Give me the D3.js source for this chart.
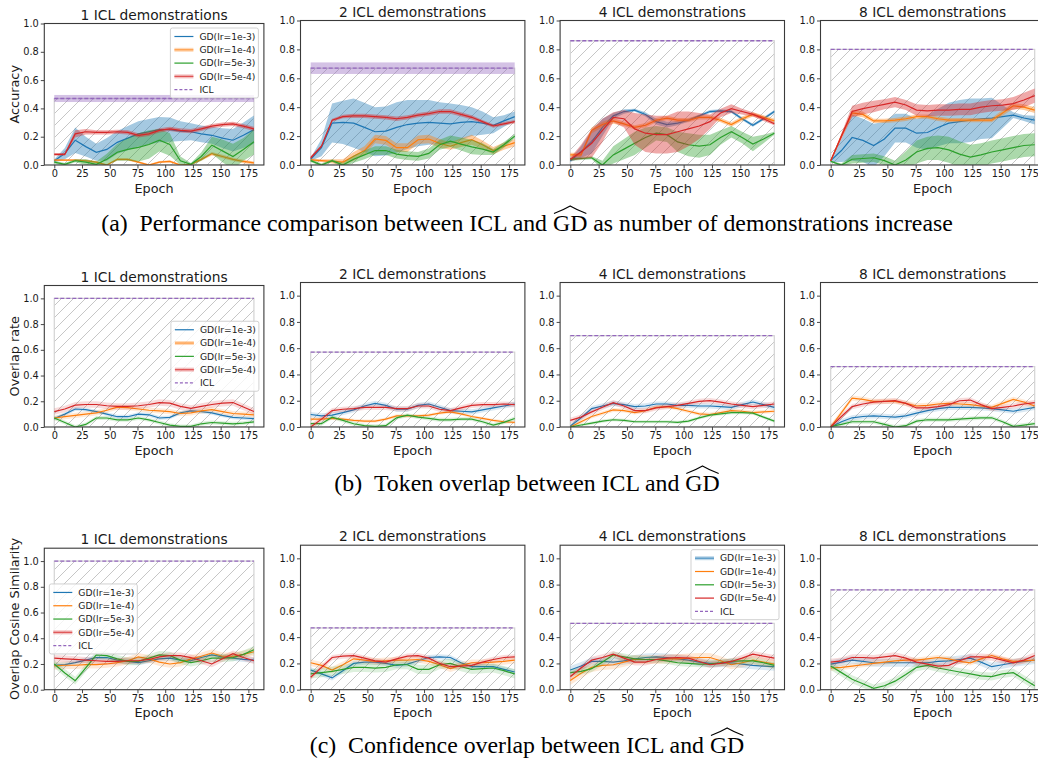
<!DOCTYPE html>
<html>
<head>
<meta charset="utf-8">
<script src="https://cdn.jsdelivr.net/npm/d3@7"></script>
<style>
  body { margin: 0; background: #fff; }
  svg text { font-family: "DejaVu Sans", sans-serif; fill: #1a1a1a; }
  svg .cap text { font-family: "Liberation Serif", serif; fill: #000; }
</style>
</head>
<body>
<svg id="fig" width="1038" height="763"></svg>
<script>
// epochs (x) shared by every panel
var epochs = [0, 9.5, 18.9, 28.4, 37.9, 47.4, 56.8, 66.3, 75.8, 85.3, 94.7, 104.2, 113.7, 123.2, 132.6, 142.1, 151.6, 161.1, 170.5, 180];
var lrNames = ["GD(lr=1e-3)", "GD(lr=1e-4)", "GD(lr=5e-3)", "GD(lr=5e-4)"];
var demoTitles = ["1 ICL demonstrations", "2 ICL demonstrations", "4 ICL demonstrations", "8 ICL demonstrations"];
var xTicks = [0, 25, 50, 75, 100, 125, 150, 175];
var yTicks = [0, 0.2, 0.4, 0.6, 0.8, 1.0];

// ---- (a) accuracy: rows are lr 1e-3, 1e-4, 5e-3, 5e-4
var acc1 = [
  [0.03, 0.08, 0.175, 0.13, 0.09, 0.11, 0.16, 0.19, 0.22, 0.235, 0.25, 0.25, 0.24, 0.235, 0.22, 0.21, 0.19, 0.175, 0.21, 0.25],
  [0.035, 0.035, 0.035, 0.03, 0.02, 0.0, 0.04, 0.04, 0.02, 0.0, 0.02, 0.025, 0.0, 0.005, 0.04, 0.08, 0.06, 0.04, 0.025, 0.015],
  [0.02, 0.005, 0.03, 0.02, 0.005, 0.04, 0.09, 0.11, 0.125, 0.145, 0.175, 0.145, 0.03, 0.005, 0.06, 0.14, 0.1, 0.06, 0.11, 0.165],
  [0.075, 0.075, 0.22, 0.235, 0.23, 0.23, 0.235, 0.23, 0.21, 0.22, 0.245, 0.255, 0.245, 0.24, 0.255, 0.275, 0.285, 0.29, 0.275, 0.255]
];
var acc1Sd = [
  [0.01, 0.04, 0.09, 0.07, 0.06, 0.08, 0.08, 0.085, 0.09, 0.09, 0.09, 0.085, 0.07, 0.06, 0.06, 0.06, 0.07, 0.08, 0.09, 0.1],
  [0.005, 0.005, 0.005, 0.008, 0.008, 0.005, 0.008, 0.008, 0.008, 0.005, 0.008, 0.008, 0.005, 0.005, 0.01, 0.012, 0.012, 0.012, 0.012, 0.01],
  [0.01, 0.01, 0.01, 0.02, 0.02, 0.04, 0.06, 0.08, 0.1, 0.1, 0.08, 0.08, 0.03, 0.01, 0.03, 0.06, 0.08, 0.09, 0.08, 0.09],
  [0.01, 0.01, 0.025, 0.02, 0.015, 0.015, 0.015, 0.015, 0.015, 0.015, 0.015, 0.015, 0.015, 0.015, 0.015, 0.015, 0.015, 0.015, 0.015, 0.015]
];
var acc2 = [
  [0.04, 0.12, 0.29, 0.295, 0.29, 0.26, 0.23, 0.235, 0.26, 0.28, 0.29, 0.295, 0.29, 0.285, 0.295, 0.3, 0.29, 0.275, 0.305, 0.335],
  [0.035, 0.03, 0.025, 0.02, 0.06, 0.1, 0.18, 0.17, 0.12, 0.12, 0.175, 0.18, 0.15, 0.13, 0.155, 0.175, 0.14, 0.1, 0.13, 0.155],
  [0.03, 0.0, 0.03, 0.0, 0.04, 0.07, 0.1, 0.1, 0.075, 0.065, 0.06, 0.08, 0.14, 0.165, 0.145, 0.125, 0.11, 0.09, 0.14, 0.2],
  [0.05, 0.13, 0.31, 0.335, 0.34, 0.34, 0.335, 0.33, 0.32, 0.33, 0.345, 0.355, 0.37, 0.37, 0.35, 0.33, 0.3, 0.27, 0.285, 0.3]
];
var acc2Sd = [
  [0.01, 0.06, 0.135, 0.15, 0.17, 0.17, 0.17, 0.17, 0.175, 0.17, 0.16, 0.155, 0.145, 0.14, 0.12, 0.1, 0.08, 0.055, 0.04, 0.035],
  [0.01, 0.01, 0.015, 0.02, 0.03, 0.03, 0.03, 0.03, 0.03, 0.03, 0.03, 0.03, 0.03, 0.025, 0.03, 0.035, 0.03, 0.025, 0.025, 0.025],
  [0.01, 0.01, 0.01, 0.015, 0.025, 0.03, 0.03, 0.03, 0.03, 0.03, 0.03, 0.035, 0.035, 0.04, 0.045, 0.05, 0.04, 0.02, 0.02, 0.015],
  [0.01, 0.01, 0.01, 0.012, 0.015, 0.015, 0.015, 0.015, 0.015, 0.015, 0.015, 0.015, 0.015, 0.015, 0.015, 0.015, 0.012, 0.012, 0.012, 0.012]
];
var acc4 = [
  [0.03, 0.09, 0.16, 0.26, 0.34, 0.37, 0.38, 0.35, 0.3, 0.28, 0.29, 0.31, 0.34, 0.37, 0.375, 0.37, 0.32, 0.275, 0.32, 0.37],
  [0.07, 0.07, 0.24, 0.28, 0.305, 0.285, 0.26, 0.275, 0.31, 0.325, 0.31, 0.31, 0.33, 0.33, 0.31, 0.28, 0.32, 0.35, 0.33, 0.305],
  [0.04, 0.045, 0.05, 0.0, 0.07, 0.11, 0.15, 0.19, 0.22, 0.21, 0.16, 0.14, 0.13, 0.14, 0.19, 0.23, 0.19, 0.145, 0.18, 0.22],
  [0.04, 0.09, 0.15, 0.24, 0.33, 0.32, 0.25, 0.22, 0.21, 0.21, 0.23, 0.25, 0.27, 0.3, 0.36, 0.39, 0.37, 0.35, 0.32, 0.285]
];
var acc4Sd = [
  [0.01, 0.04, 0.08, 0.06, 0.02, 0.015, 0.01, 0.015, 0.02, 0.02, 0.015, 0.01, 0.01, 0.01, 0.01, 0.01, 0.01, 0.01, 0.01, 0.01],
  [0.015, 0.015, 0.02, 0.02, 0.02, 0.015, 0.015, 0.015, 0.015, 0.015, 0.015, 0.015, 0.015, 0.015, 0.015, 0.015, 0.015, 0.015, 0.015, 0.015],
  [0.01, 0.01, 0.01, 0.03, 0.06, 0.07, 0.08, 0.07, 0.05, 0.05, 0.07, 0.08, 0.08, 0.07, 0.05, 0.04, 0.04, 0.05, 0.03, 0.01],
  [0.01, 0.05, 0.1, 0.08, 0.035, 0.06, 0.11, 0.13, 0.13, 0.13, 0.14, 0.12, 0.09, 0.05, 0.03, 0.03, 0.02, 0.015, 0.015, 0.01]
];
var acc8 = [
  [0.03, 0.1, 0.19, 0.17, 0.135, 0.18, 0.255, 0.255, 0.22, 0.225, 0.26, 0.29, 0.3, 0.31, 0.32, 0.325, 0.335, 0.345, 0.325, 0.31],
  [0.03, 0.2, 0.36, 0.35, 0.305, 0.305, 0.31, 0.32, 0.335, 0.335, 0.32, 0.31, 0.31, 0.31, 0.31, 0.31, 0.36, 0.41, 0.4, 0.38],
  [0.025, 0.0, 0.04, 0.045, 0.05, 0.03, 0.0, 0.035, 0.09, 0.115, 0.12, 0.105, 0.075, 0.055, 0.07, 0.09, 0.105, 0.12, 0.135, 0.14],
  [0.03, 0.2, 0.37, 0.39, 0.405, 0.42, 0.435, 0.415, 0.38, 0.375, 0.38, 0.38, 0.385, 0.385, 0.4, 0.41, 0.415, 0.425, 0.45, 0.48]
];
var acc8Sd = [
  [0.01, 0.08, 0.16, 0.15, 0.15, 0.12, 0.1, 0.1, 0.1, 0.12, 0.13, 0.14, 0.15, 0.15, 0.14, 0.14, 0.08, 0.02, 0.02, 0.03],
  [0.005, 0.015, 0.02, 0.02, 0.015, 0.015, 0.015, 0.015, 0.015, 0.015, 0.015, 0.015, 0.015, 0.015, 0.015, 0.015, 0.02, 0.02, 0.02, 0.02],
  [0.005, 0.01, 0.03, 0.03, 0.03, 0.03, 0.03, 0.06, 0.08, 0.08, 0.085, 0.09, 0.09, 0.085, 0.08, 0.08, 0.08, 0.08, 0.08, 0.08],
  [0.005, 0.02, 0.04, 0.04, 0.04, 0.035, 0.035, 0.035, 0.04, 0.04, 0.04, 0.04, 0.04, 0.04, 0.04, 0.04, 0.04, 0.045, 0.05, 0.05]
];
var iclAcc = [0.47, 0.67, 0.86, 0.80];
var iclAccSd = [0.025, 0.04, 0, 0];

// ---- (b) token overlap rate
var ovl1 = [
  [0.065, 0.1, 0.14, 0.135, 0.12, 0.1, 0.08, 0.08, 0.1, 0.095, 0.07, 0.075, 0.11, 0.125, 0.12, 0.11, 0.09, 0.075, 0.07, 0.065],
  [0.07, 0.08, 0.09, 0.1, 0.11, 0.13, 0.155, 0.15, 0.14, 0.13, 0.125, 0.12, 0.105, 0.11, 0.125, 0.135, 0.12, 0.105, 0.1, 0.095],
  [0.07, 0.035, 0.0, 0.02, 0.07, 0.07, 0.055, 0.055, 0.07, 0.055, 0.035, 0.015, 0.005, 0.005, 0.025, 0.035, 0.03, 0.025, 0.03, 0.04],
  [0.12, 0.14, 0.17, 0.175, 0.175, 0.165, 0.16, 0.16, 0.165, 0.175, 0.19, 0.185, 0.16, 0.145, 0.16, 0.175, 0.185, 0.19, 0.155, 0.12]
];
var ovl2 = [
  [0.095, 0.085, 0.09, 0.11, 0.13, 0.16, 0.18, 0.165, 0.135, 0.135, 0.165, 0.175, 0.15, 0.125, 0.12, 0.115, 0.13, 0.145, 0.16, 0.175],
  [0.06, 0.06, 0.065, 0.06, 0.05, 0.045, 0.045, 0.06, 0.085, 0.085, 0.085, 0.09, 0.105, 0.115, 0.1, 0.08, 0.065, 0.05, 0.04, 0.035],
  [0.025, 0.025, 0.075, 0.05, 0.025, 0.01, 0.005, 0.01, 0.07, 0.09, 0.075, 0.065, 0.055, 0.055, 0.06, 0.06, 0.04, 0.015, 0.035, 0.065],
  [0.0, 0.06, 0.125, 0.135, 0.14, 0.15, 0.15, 0.15, 0.14, 0.14, 0.16, 0.16, 0.135, 0.125, 0.145, 0.165, 0.17, 0.17, 0.175, 0.17]
];
var ovl4 = [
  [0.005, 0.07, 0.14, 0.16, 0.18, 0.17, 0.155, 0.16, 0.175, 0.175, 0.165, 0.165, 0.16, 0.16, 0.155, 0.15, 0.17, 0.19, 0.17, 0.15],
  [0.0, 0.04, 0.08, 0.105, 0.13, 0.125, 0.11, 0.125, 0.15, 0.155, 0.14, 0.12, 0.1, 0.095, 0.11, 0.125, 0.12, 0.11, 0.115, 0.12],
  [0.0, 0.015, 0.03, 0.045, 0.055, 0.05, 0.04, 0.04, 0.04, 0.04, 0.035, 0.045, 0.07, 0.09, 0.1, 0.11, 0.11, 0.105, 0.075, 0.045],
  [0.05, 0.075, 0.115, 0.15, 0.185, 0.16, 0.125, 0.125, 0.145, 0.155, 0.165, 0.18, 0.195, 0.2, 0.19, 0.175, 0.165, 0.155, 0.165, 0.175]
];
var ovl8 = [
  [0.0, 0.04, 0.07, 0.08, 0.085, 0.08, 0.075, 0.085, 0.105, 0.125, 0.14, 0.15, 0.15, 0.15, 0.145, 0.14, 0.13, 0.12, 0.135, 0.15],
  [0.0, 0.11, 0.22, 0.21, 0.195, 0.195, 0.195, 0.18, 0.16, 0.165, 0.175, 0.18, 0.175, 0.17, 0.16, 0.15, 0.18, 0.21, 0.19, 0.16],
  [0.005, 0.02, 0.04, 0.04, 0.04, 0.02, 0.0, 0.01, 0.045, 0.055, 0.055, 0.055, 0.06, 0.065, 0.07, 0.07, 0.04, 0.005, 0.015, 0.025],
  [0.0, 0.08, 0.155, 0.175, 0.19, 0.195, 0.2, 0.18, 0.145, 0.145, 0.155, 0.17, 0.2, 0.205, 0.17, 0.14, 0.15, 0.16, 0.175, 0.185]
];
var ovl1Sd = [0.015, 0.02, 0.015, 0.025];
var ovl2Sd = [0.02, 0.012, 0.015, 0.02];
var ovl4Sd = [0.02, 0.015, 0.012, 0.02];
var ovl8Sd = [0.02, 0.02, 0.015, 0.02];
var iclOvl = [1.0, 0.57, 0.695, 0.46];

// ---- (c) confidence overlap cosine similarity
var cos1 = [
  [0.19, 0.195, 0.21, 0.23, 0.25, 0.25, 0.23, 0.22, 0.21, 0.225, 0.24, 0.245, 0.23, 0.225, 0.25, 0.27, 0.255, 0.245, 0.235, 0.23],
  [0.185, 0.19, 0.19, 0.195, 0.195, 0.2, 0.21, 0.225, 0.255, 0.24, 0.215, 0.2, 0.21, 0.24, 0.26, 0.285, 0.26, 0.26, 0.275, 0.295],
  [0.2, 0.13, 0.07, 0.17, 0.27, 0.265, 0.24, 0.22, 0.22, 0.245, 0.27, 0.265, 0.23, 0.21, 0.225, 0.245, 0.245, 0.25, 0.275, 0.31],
  [0.245, 0.24, 0.235, 0.23, 0.225, 0.22, 0.22, 0.225, 0.225, 0.235, 0.255, 0.265, 0.265, 0.25, 0.225, 0.2, 0.24, 0.28, 0.25, 0.225]
];
var cos2 = [
  [0.15, 0.12, 0.09, 0.145, 0.2, 0.21, 0.21, 0.2, 0.185, 0.195, 0.22, 0.245, 0.25, 0.245, 0.205, 0.175, 0.175, 0.175, 0.155, 0.135],
  [0.205, 0.185, 0.15, 0.19, 0.235, 0.225, 0.215, 0.22, 0.225, 0.225, 0.23, 0.215, 0.19, 0.16, 0.185, 0.205, 0.205, 0.21, 0.215, 0.225],
  [0.12, 0.13, 0.14, 0.155, 0.17, 0.17, 0.165, 0.17, 0.19, 0.19, 0.155, 0.155, 0.19, 0.2, 0.175, 0.155, 0.16, 0.165, 0.145, 0.12],
  [0.095, 0.17, 0.245, 0.255, 0.26, 0.24, 0.22, 0.21, 0.235, 0.255, 0.26, 0.24, 0.2, 0.175, 0.18, 0.185, 0.21, 0.23, 0.245, 0.25]
];
var cos4 = [
  [0.15, 0.18, 0.215, 0.215, 0.21, 0.22, 0.235, 0.245, 0.25, 0.245, 0.235, 0.225, 0.21, 0.2, 0.2, 0.205, 0.195, 0.185, 0.18, 0.175],
  [0.07, 0.125, 0.17, 0.185, 0.19, 0.21, 0.23, 0.23, 0.23, 0.235, 0.235, 0.24, 0.245, 0.245, 0.22, 0.19, 0.205, 0.225, 0.21, 0.195],
  [0.13, 0.14, 0.16, 0.21, 0.265, 0.25, 0.235, 0.23, 0.23, 0.22, 0.205, 0.2, 0.195, 0.195, 0.205, 0.215, 0.22, 0.22, 0.205, 0.185],
  [0.1, 0.165, 0.225, 0.245, 0.27, 0.24, 0.21, 0.21, 0.23, 0.24, 0.245, 0.24, 0.215, 0.19, 0.2, 0.215, 0.24, 0.27, 0.255, 0.24]
];
var cos8 = [
  [0.195, 0.21, 0.225, 0.215, 0.205, 0.205, 0.205, 0.205, 0.205, 0.205, 0.215, 0.22, 0.23, 0.24, 0.21, 0.175, 0.19, 0.205, 0.215, 0.225],
  [0.165, 0.17, 0.18, 0.19, 0.2, 0.21, 0.22, 0.225, 0.225, 0.235, 0.245, 0.235, 0.215, 0.205, 0.235, 0.26, 0.235, 0.215, 0.22, 0.225],
  [0.18, 0.13, 0.08, 0.045, 0.01, 0.03, 0.065, 0.115, 0.17, 0.185, 0.165, 0.15, 0.135, 0.12, 0.105, 0.1, 0.12, 0.13, 0.08, 0.03],
  [0.21, 0.22, 0.245, 0.245, 0.24, 0.25, 0.26, 0.24, 0.21, 0.195, 0.18, 0.185, 0.22, 0.25, 0.25, 0.245, 0.225, 0.205, 0.225, 0.26]
];
var cos1Sd = [0.02, 0.03, 0.03, 0.025];
var cos2Sd = [0.02, 0.025, 0.035, 0.02];
var cos4Sd = [0.03, 0.035, 0.025, 0.025];
var cos8Sd = [0.03, 0.02, 0.03, 0.025];
var iclCos = [1.0, 0.47, 0.505, 0.76];

// ---- layout / style
var colors = ["#1f77b4", "#ff7f0e", "#2ca02c", "#d62728"];
var iclColor = "#9467bd";

var rows = [
  {means: [acc1, acc2, acc4, acc8], sds: [acc1Sd, acc2Sd, acc4Sd, acc8Sd], icl: iclAcc, iclSd: iclAccSd,
   ymax: 1.0, ylabel: "Accuracy", alpha: 0.4, bottom: 165},
  {means: [ovl1, ovl2, ovl4, ovl8], sds: [ovl1Sd, ovl2Sd, ovl4Sd, ovl8Sd], icl: iclOvl, iclSd: [0, 0, 0, 0],
   ymax: 1.1, ylabel: "Overlap rate", alpha: 0.16, bottom: 427},
  {means: [cos1, cos2, cos4, cos8], sds: [cos1Sd, cos2Sd, cos4Sd, cos8Sd], icl: iclCos, iclSd: [0, 0, 0, 0],
   ymax: 1.1, ylabel: "Overlap Cosine Similarity", alpha: 0.16, bottom: 689.7}
];
var cols = [
  {left: 44.3, w: 219.6, h: 141.5},
  {left: 300.5, w: 224.4, h: 144.5},
  {left: 560.1, w: 224.4, h: 144.5},
  {left: 820.5, w: 224.4, h: 144.5}
];
// legend: which panel, where, which handles show the shaded band
var legends = [
  {r: 0, c: 0, loc: "upper right", thick: [false, true, false, true]},
  {r: 1, c: 0, loc: "center right", thick: [false, true, false, true]},
  {r: 2, c: 0, loc: "center left", thick: [false, false, false, true]},
  {r: 2, c: 2, loc: "upper right", thick: [true, false, false, false]}
];
var captions = [
  {lab: "(a)", text: "Performance comparison between ICL and ", after: " as number of demonstrations increase", base: 231},
  {lab: "(b)", text: "Token overlap between ICL and ", after: "", base: 491},
  {lab: "(c)", text: "Confidence overlap between ICL and ", after: "", base: 753}
];

function sdAt(sd, i) { return Array.isArray(sd) ? sd[i] : sd; }

var svg = d3.select("#fig");
var defs = svg.append("defs");
var hs = 12;
defs.append("pattern")
    .attr("id", "hatch")
    .attr("patternUnits", "userSpaceOnUse")
    .attr("width", hs).attr("height", hs)
  .append("path")
    .attr("d", "M0," + hs + " L" + hs + ",0 M-3,3 L3,-3 M" + (hs - 3) + "," + (hs + 3) + " L" + (hs + 3) + "," + (hs - 3))
    .attr("stroke", "#b8b8b8")
    .attr("stroke-width", 0.8);

var idx = d3.range(epochs.length);

rows.forEach(function(row, r) {
  cols.forEach(function(col, c) {
    var top = row.bottom - col.h;
    var x = d3.scaleLinear().domain([-9, 189]).range([col.left, col.left + col.w]);
    var y = d3.scaleLinear().domain([0, row.ymax]).range([row.bottom, top]);
    var g = svg.append("g");
    var clipId = "clip" + r + c;
    defs.append("clipPath").attr("id", clipId)
      .append("rect").attr("x", col.left).attr("y", top).attr("width", col.w).attr("height", col.h);
    var plot = g.append("g").attr("clip-path", "url(#" + clipId + ")");

    // ICL reference: hatched bar + dashed mean line
    var icl = row.icl[c];
    plot.append("rect")
      .attr("x", x(0)).attr("y", y(icl))
      .attr("width", x(180) - x(0)).attr("height", y(0) - y(icl))
      .attr("fill", "url(#hatch)")
      .attr("stroke", "#d3d3d3").attr("stroke-width", 1.2);
    if (row.iclSd[c] > 0) {
      plot.append("rect")
        .attr("x", x(0)).attr("y", y(icl + row.iclSd[c]))
        .attr("width", x(180) - x(0)).attr("height", y(icl - row.iclSd[c]) - y(icl + row.iclSd[c]))
        .attr("fill", iclColor).attr("fill-opacity", 0.4);
    }
    plot.append("line")
      .attr("x1", x(0)).attr("x2", x(180)).attr("y1", y(icl)).attr("y2", y(icl))
      .attr("stroke", iclColor).attr("stroke-width", 1.3).attr("stroke-dasharray", "4,2");

    // GD runs
    row.means[c].forEach(function(m, k) {
      var sd = row.sds[c][k];
      plot.append("path").datum(idx)
        .attr("d", d3.area()
          .x(function(i) { return x(epochs[i]); })
          .y0(function(i) { return y(m[i] - sdAt(sd, i)); })
          .y1(function(i) { return y(m[i] + sdAt(sd, i)); }))
        .attr("fill", colors[k]).attr("fill-opacity", row.alpha);
      plot.append("path").datum(idx)
        .attr("d", d3.line()
          .x(function(i) { return x(epochs[i]); })
          .y(function(i) { return y(m[i]); }))
        .attr("fill", "none").attr("stroke", colors[k]).attr("stroke-width", 1.2);
    });

    // axes
    var ax = g.append("g").attr("transform", "translate(0," + row.bottom + ")")
      .call(d3.axisBottom(x).tickValues(xTicks).tickSize(3.5).tickPadding(1.5).tickSizeOuter(0));
    var ay = g.append("g").attr("transform", "translate(" + col.left + ",0)")
      .call(d3.axisLeft(y).tickValues(yTicks).tickSize(3.5).tickPadding(2).tickSizeOuter(0)
        .tickFormat(d3.format(".1f")));
    [ax, ay].forEach(function(a) {
      a.select(".domain").remove();
      a.selectAll("line").attr("stroke", "#333").attr("stroke-width", 0.9);
      a.selectAll("text").attr("font-size", 9.8).attr("font-family", "DejaVu Sans").attr("fill", "#1a1a1a");
    });
    g.append("rect")
      .attr("x", col.left).attr("y", top).attr("width", col.w).attr("height", col.h)
      .attr("fill", "none").attr("stroke", "#3a3a3a").attr("stroke-width", 1.1);

    g.append("text")
      .attr("x", col.left + col.w / 2).attr("y", top - 4)
      .attr("text-anchor", "middle").attr("font-size", 13.8)
      .text(demoTitles[c]);
    g.append("text")
      .attr("x", col.left + col.w / 2).attr("y", row.bottom + 27.7)
      .attr("text-anchor", "middle").attr("font-size", 12.8)
      .text("Epoch");
    if (c === 0) {
      g.append("text")
        .attr("transform", "translate(19," + (top + col.h / 2) + ") rotate(-90)")
        .attr("text-anchor", "middle").attr("font-size", 12.8)
        .text(row.ylabel);
    }
  });
});

// legends
legends.forEach(function(L) {
  var col = cols[L.c], row = rows[L.r];
  var top = row.bottom - col.h;
  var w = 88, h = 70;
  var bx, by;
  if (L.loc === "upper right") { bx = col.left + col.w - 5.5 - w; by = top + 4.5; }
  else if (L.loc === "center right") { bx = col.left + col.w - 5 - w; by = top + col.h / 2 - h / 2; }
  else { bx = col.left + 5; by = top + col.h / 2 - h / 2; }
  var lg = svg.append("g");
  lg.append("rect").attr("x", bx).attr("y", by).attr("width", w).attr("height", h).attr("rx", 2)
    .attr("fill", "#fff").attr("fill-opacity", 0.8).attr("stroke", "#cccccc").attr("stroke-width", 0.9);
  var items = lrNames.concat(["ICL"]);
  items.forEach(function(name, k) {
    var cy = by + 8.5 + k * 13.3;
    if (k < 4) {
      if (L.thick[k]) {
        lg.append("line").attr("x1", bx + 4).attr("x2", bx + 23).attr("y1", cy).attr("y2", cy)
          .attr("stroke", colors[k]).attr("stroke-opacity", 0.3).attr("stroke-width", 4);
      }
      lg.append("line").attr("x1", bx + 4).attr("x2", bx + 23).attr("y1", cy).attr("y2", cy)
        .attr("stroke", colors[k]).attr("stroke-opacity", L.thick[k] ? 0.7 : 1).attr("stroke-width", 1.2);
    } else {
      lg.append("line").attr("x1", bx + 4).attr("x2", bx + 23).attr("y1", cy).attr("y2", cy)
        .attr("stroke", iclColor).attr("stroke-width", 1.2).attr("stroke-dasharray", "3,2");
    }
    lg.append("text").attr("x", bx + 29).attr("y", cy).attr("dy", "0.35em")
      .attr("font-size", 9.2).text(name);
  });
});

// captions with widehat GD
var capFont = 23.8, capCenter = 527;
captions.forEach(function(cp) {
  var cg = svg.append("g").attr("class", "cap");
  var t1 = cg.append("text").attr("x", 0).attr("y", cp.base).attr("font-size", capFont).text(cp.lab);
  var xx = t1.node().getComputedTextLength() + capFont * 0.5;
  var t2 = cg.append("text").attr("x", xx).attr("y", cp.base).attr("font-size", capFont).attr("xml:space", "preserve").text(cp.text);
  xx += t2.node().getComputedTextLength();
  var t3 = cg.append("text").attr("x", xx).attr("y", cp.base).attr("font-size", capFont).text("GD");
  var gdW = t3.node().getComputedTextLength();
  cg.append("path")
    .attr("d", "M" + (xx + 1) + "," + (cp.base - 17.5) + " Q" + (xx + gdW * 0.3) + "," + (cp.base - 21) + " " + (xx + gdW / 2) + "," + (cp.base - 25)
      + " Q" + (xx + gdW * 0.7) + "," + (cp.base - 21) + " " + (xx + gdW - 1) + "," + (cp.base - 17.5))
    .attr("fill", "none").attr("stroke", "#000").attr("stroke-width", 1.1);
  xx += gdW;
  if (cp.after) {
    var t4 = cg.append("text").attr("x", xx).attr("y", cp.base).attr("font-size", capFont).attr("xml:space", "preserve").text(cp.after);
    xx += t4.node().getComputedTextLength();
  }
  cg.attr("transform", "translate(" + (capCenter - xx / 2) + ",0)");
});
</script>
</body>
</html>
